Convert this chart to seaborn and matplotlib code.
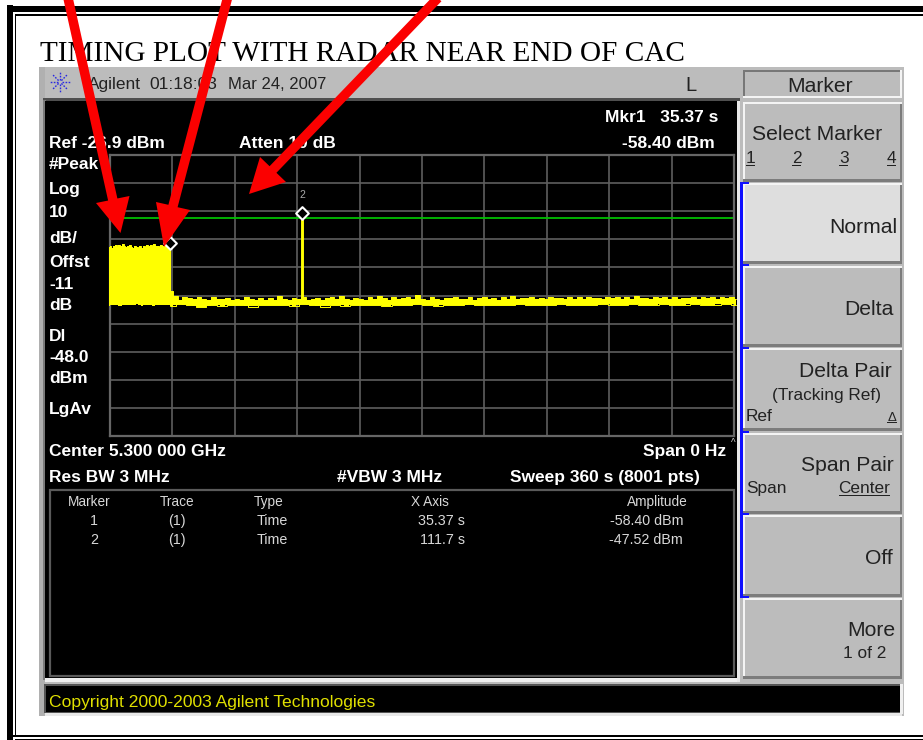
import numpy as np
import matplotlib
matplotlib.use("Agg")
import matplotlib.pyplot as plt
from matplotlib.patches import Rectangle, Polygon
import seaborn as sns

# ---------- data ----------
marker_times = [35.37, 111.7]
marker_levels = [-58.40, -47.52]
display_line = -49.4
spike_time = [111.7, 111.7]
spike_level = [-79.0, -49.4]
burst_top = [-59.6, -59.2, -59.9, -59.4, -59.0, -59.7, -58.9, -59.5, -58.6, -59.3, -59.8, -59.4,
             -59.1, -59.6, -59.9, -59.3, -59.7, -60.0, -59.5, -59.9, -59.2, -59.6, -58.9, -59.4,
             -59.0, -59.6, -58.7, -59.5, -59.2, -59.7, -59.0, -59.5, -58.8, -59.4, -59.1, -59.6]
burst_low = [-80.6, -80.2, -80.7, -80.3, -80.5, -80.1, -80.6, -80.3, -80.7, -80.2, -80.5, -80.3]
floor_top = [-75.5, -77.0, -78.4, -77.4, -78.0, -78.3, -77.6, -78.2, -78.5, -77.5, -78.3, -78.1, -77.7, -78.4,
             -78.2, -78.5, -77.4, -78.3, -78.6, -78.0, -78.4, -77.9, -78.5, -77.3, -78.2, -78.5, -77.7, -78.1,
             -77.5, -78.4, -78.2, -77.8, -78.5, -78.0, -77.6, -78.3, -77.2, -78.2, -78.5, -77.9, -78.1, -78.4,
             -77.6, -78.2, -77.3, -78.0, -78.4, -77.6, -78.3, -78.0, -77.5, -78.2, -76.9, -78.1, -78.4, -77.6,
             -78.2, -78.5, -77.7, -78.0, -77.4, -78.3, -78.1, -77.5, -78.4, -77.9, -77.4, -78.2, -78.0, -78.4,
             -77.6, -78.1, -77.3, -78.3, -77.8, -78.0, -77.5, -78.2, -77.7, -78.3, -77.4, -78.0, -77.9, -78.3,
             -77.5, -78.1, -77.6, -78.2, -77.4, -78.0, -77.7, -78.3, -77.5, -77.9, -77.4, -78.2, -77.6, -78.1,
             -77.3, -78.0, -77.7, -78.2, -77.5, -78.0, -77.6, -78.3, -77.4, -78.1, -77.7, -78.0, -77.5, -78.2,
             -77.4, -78.0, -77.6, -78.2, -77.5, -77.9, -77.4, -78.1]
floor_low = [-80.6, -80.1, -80.4, -81.2, -80.3, -80.6, -80.2, -80.5, -80.9, -80.2, -80.5, -80.3, -80.7, -80.1,
             -80.4, -81.0, -80.3, -80.6, -80.2, -80.5, -80.3, -80.8, -80.2, -80.5, -80.1, -80.4, -80.6, -80.2,
             -80.4, -80.1, -80.5, -80.2, -80.3, -80.5, -80.1, -80.4, -80.2, -80.3, -80.1, -80.4, -80.2, -80.3,
             -80.1, -80.2, -80.4, -80.1, -80.3, -80.2, -80.1, -80.3, -80.2, -80.1, -80.3, -80.2, -80.0, -80.2]

title_text = "TIMING PLOT WITH RADAR NEAR END OF CAC"
side_labels = ["#Peak", "Log", "10", "dB/", "Offst", "-11", "dB", "Dl", "-48.0", "dBm", "LgAv"]
table_header = ["Marker", "Trace", "Type", "X Axis", "Amplitude"]
table_row1 = ["1", "(1)", "Time", "35.37 s", "-58.40 dBm"]
table_row2 = ["2", "(1)", "Time", "111.7 s", "-47.52 dBm"]

W, H = 923, 740
sns.set_theme(style="dark", rc={"axes.facecolor": "black"})
plt.rcParams["font.family"] = ["Liberation Sans", "DejaVu Sans"]
fig = plt.figure(figsize=(W / 100, H / 100), dpi=100, facecolor="white")

# full-figure layer in pixel coordinates for the instrument chrome
bg = fig.add_axes([0, 0, 1, 1], zorder=0, facecolor="none")
bg.set_xlim(0, W); bg.set_ylim(H, 0); bg.axis("off")


def box(ax, x0, y0, x1, y1, fc, ec="none", lw=0, z=1):
    ax.add_patch(Rectangle((x0, y0), x1 - x0, y1 - y0, fc=fc, ec=ec, lw=lw, zorder=z))


def txt(x, y, s, size=12.5, ha="left", color="white", weight="normal", family=None):
    return bg.text(x, y, s, fontsize=size, ha=ha, va="baseline", color=color, weight=weight, zorder=5,
                   family=family if family else ["Liberation Sans", "DejaVu Sans"])


# report frame
box(bg, 7, 5, 13, H, "black")
box(bg, 7, 6, W, 12, "black")
box(bg, 15, 14, 16, 736, "black")
box(bg, 15, 14, W, 15.5, "black")
box(bg, 7, 735, W, 737, "black")
box(bg, 15, 739, W, 740, "black")

txt(40, 61, title_text, size=21.1, color="black", family="Liberation Serif")

# instrument panel
PANEL = "#bcbcbc"
box(bg, 39, 67, 904, 716, PANEL)
box(bg, 39, 67, 45, 716, "#b0b0b0")
box(bg, 43, 98, 740, 102, "#4f4f4f", z=2)
box(bg, 43, 100, 46, 680, "#7a7a7a", z=2)
box(bg, 45, 101, 737, 678, "black", z=2)
box(bg, 45, 678, 740, 682, "#efefef", z=2)
box(bg, 737, 101, 740, 682, "#e8e8e8", z=2)
box(bg, 44, 684, 902, 713, "#555555", z=2)
box(bg, 46, 686, 900, 712, "black", z=3)
box(bg, 45, 713, 902, 716, "#e8e8e8", z=2)
box(bg, 900, 684, 903, 714, "#f0f0f0", z=3)

# table box
bg.add_patch(Rectangle((49.5, 489.5), 684.5, 186, fc="black", ec="#5a5a5a", lw=1.6, zorder=3))

# softkeys
key_edges = [(104, 180), (185, 262), (268, 345), (350, 429), (435, 512), (517, 595), (600, 677)]
for i, (a, b) in enumerate(key_edges):
    fc = "#dedede" if i == 1 else PANEL
    box(bg, 743, a, 902, b, fc, z=2)
    box(bg, 743, a - 2, 902, a, "#f4f4f4", z=3)
    box(bg, 743, a, 745, b, "#f4f4f4", z=3)
    box(bg, 743, b - 1, 902, b + 2, "#7c7c7c", z=3)
    box(bg, 900, a, 902, b, "#7c7c7c", z=3)
box(bg, 743, 70, 902, 97, PANEL, z=2)
box(bg, 743, 70, 902, 72, "#777777", z=3)
box(bg, 743, 70, 745, 97, "#777777", z=3)
box(bg, 743, 96, 902, 98, "#f4f4f4", z=3)
box(bg, 900, 70, 902, 97, "#f4f4f4", z=3)
# blue bracket
box(bg, 740, 183, 742.5, 596, "#1010ff", z=4)
for y in [183, 265, 348, 432, 514, 597]:
    box(bg, 740, y - 1, 749, y + 0.7, "#1010ff", z=4)

DK = "#222222"
txt(88, 89, "Agilent", 12.4, color=DK)
txt(149, 89, "01:18:03", 12.6, color=DK)
txt(228, 89, "Mar 24, 2007", 12.0, color=DK)
txt(685, 91, "L", 14.5, color=DK)
txt(820, 92, "Marker", 15.2, ha="center", color=DK)
txt(752, 140, "Select Marker", 15.2, color=DK)
for x, s in zip([746, 792, 839, 887], ["1", "2", "3", "4"]):
    txt(x, 163, s, 12.4, color=DK)
    box(bg, x, 165, x + 9, 166, DK, z=5)
txt(897, 233, "Normal", 15.2, ha="right", color=DK)
txt(894, 315, "Delta", 15.2, ha="right", color=DK)
txt(892, 377, "Delta Pair", 15.2, ha="right", color=DK)
txt(826, 400, "(Tracking Ref)", 12.4, ha="center", color=DK)
txt(746, 421, "Ref", 12.4, color=DK)
txt(896, 421, "\u0394", 9.5, ha="right", color=DK)
box(bg, 887, 422, 897, 423, DK, z=5)
txt(894, 471, "Span Pair", 15.2, ha="right", color=DK)
txt(746, 493, "Span", 12.4, color=DK)
txt(890, 493, "Center", 12.4, ha="right", color=DK)
box(bg, 839, 495, 890, 496, DK, z=5)
txt(893, 564, "Off", 15.2, ha="right", color=DK)
txt(895, 636, "More", 15.2, ha="right", color=DK)
txt(886, 658, "1 of 2", 12.4, ha="right", color=DK)

# Agilent spark logo
for a in range(8):
    ang = a * np.pi / 4
    bg.plot([60 + 2 * np.cos(ang), 60 + 11 * np.cos(ang)], [82 + 2 * np.sin(ang), 82 + 11 * np.sin(ang)],
            color="#2a2ae0", lw=1, ls=(0, (1.2, 1)), zorder=5)

# screen text
txt(49, 148, "Ref -26.9 dBm", weight="bold")
txt(239, 148, "Atten 10 dB", weight="bold")
txt(718, 122, "Mkr1   35.37 s", ha="right", weight="bold")
txt(715, 148, "-58.40 dBm", ha="right", weight="bold")
for y, s in zip([169, 194, 217, 243, 267, 289, 310, 341, 362, 383, 414], side_labels):
    txt(49, y, s, weight="bold")
txt(49, 456, "Center 5.300 000 GHz", weight="bold")
txt(49, 482, "Res BW 3 MHz", weight="bold")
txt(337, 482, "#VBW 3 MHz", weight="bold")
txt(726, 456, "Span 0 Hz", ha="right", weight="bold")
txt(700, 482, "Sweep 360 s (8001 pts)", ha="right", weight="bold")
txt(733, 446, "^", 7, ha="center", color="#cccccc")

TB = "#d8d8d8"
for x, s in zip([89, 177, 269, 430, 657], table_header):
    txt(x, 506, s, 9.8, ha="center", color=TB)
for y, row in zip([525, 544], [table_row1, table_row2]):
    for x, s, ha in zip([94, 177, 272, 465, 683], row, ["center", "center", "center", "right", "right"]):
        txt(x, y, s, 10.3, ha=ha, color=TB)
txt(49, 707, "Copyright 2000-2003 Agilent Technologies", 12.6, color="#e0e000")

# ---------- the trace, on its own axes ----------
x0, y_top = 0.75, -26.97
ax = fig.add_axes([110 / W, 1 - 436 / H, 624 / W, 281 / H], zorder=2, facecolor="none")
ax.set_xlim(x0, x0 + 360)
ax.set_ylim(y_top - 100, y_top)
ax.set_xticks(x0 + 36 * np.arange(1, 10))
ax.set_yticks(y_top - 10 * np.arange(1, 10))
ax.tick_params(length=0, labelbottom=False, labelleft=False)
ax.grid(True, color="#5e5e5e", lw=1.2)
ax.set_axisbelow(True)
for s in ax.spines.values():
    s.set_color("#666666"); s.set_linewidth(1.6); s.set_visible(True)

t_burst_top = np.linspace(0, 35.4, len(burst_top))
t_burst_low = np.linspace(0, 35.4, len(burst_low))
t_floor_top = np.linspace(35.6, 362, len(floor_top))
t_floor_low = np.linspace(35.6, 362, len(floor_low))
YEL = "#ffff00"
ax.fill_between(t_burst_top, np.interp(t_burst_top, t_burst_low, burst_low), burst_top, step="mid",
                color=YEL, lw=0, clip_on=False, zorder=3)
ax.fill_between(t_floor_top, np.interp(t_floor_top, t_floor_low, floor_low), floor_top, step="mid",
                color=YEL, lw=0, clip_on=False, zorder=3)
kw = dict(color=YEL, ax=ax, estimator=None, sort=False, legend=False, clip_on=False, zorder=3)
sns.lineplot(x=t_burst_top, y=burst_top, lw=0.7, drawstyle="steps-mid", **kw)
sns.lineplot(x=t_floor_top, y=floor_top, lw=0.7, drawstyle="steps-mid", **kw)
sns.lineplot(x=t_floor_low, y=floor_low, lw=0.7, drawstyle="steps-mid", **kw)
sns.lineplot(x=[35.4, 35.4], y=[burst_top[-1], -78.0], lw=1.5, **kw)
sns.lineplot(x=spike_time, y=spike_level, lw=2.1, **kw)
ax.axhline(display_line, color="#00c000", lw=1.3, zorder=2)
sns.scatterplot(x=marker_times, y=marker_levels, marker="D", s=42, facecolor="black", edgecolor="white",
                linewidth=1.5, ax=ax, legend=False, zorder=4, clip_on=False)
ax.annotate("2", (marker_times[1], marker_levels[1]), xytext=(0, 13), textcoords="offset points",
            ha="center", va="center", fontsize=7.5, color="#aaaaaa")
ax.set_xlabel(""); ax.set_ylabel("")

# ---------- red arrows, over everything ----------
top = fig.add_axes([0, 0, 1, 1], zorder=4, facecolor="none")
top.set_xlim(0, W); top.set_ylim(H, 0); top.axis("off")


def arrow(start, tip, base_a, base_b, shaft=9.5):
    s, t, a, b = map(np.array, (start, tip, base_a, base_b))
    m = (a + b) / 2
    n = np.array([-(m - s)[1], (m - s)[0]]); n = n / np.hypot(*n) * shaft / 2
    if np.dot(n, a - m) < 0:
        n = -n
    pts = [s + n, m + n, a, t, b, m - n, s - n]
    top.add_patch(Polygon(pts, closed=True, fc="#fb0000", ec="none"))


arrow((68, -2), (120.5, 233), (96, 203), (129.5, 196))
arrow((227.5, -2), (164, 247), (156, 202), (190, 210))
arrow((438, -2), (249, 194), (260, 157), (286, 182))

fig.savefig("out.png", dpi=100, facecolor="white")
